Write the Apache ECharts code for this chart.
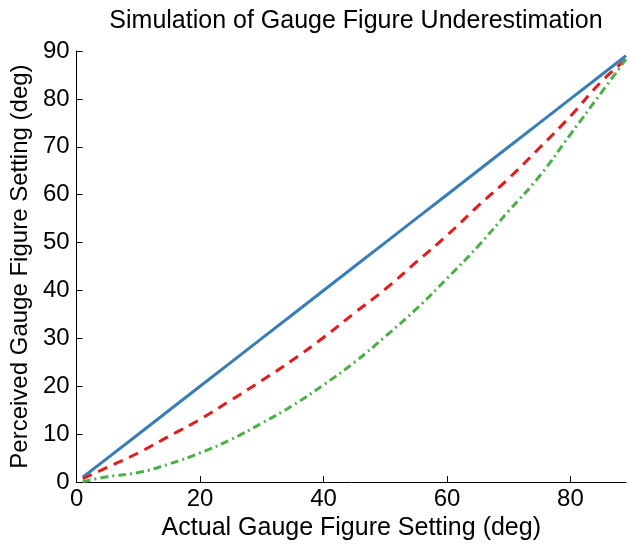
<!DOCTYPE html>
<html>
<head>
<meta charset="utf-8">
<script src="https://cdn.jsdelivr.net/npm/echarts@6/dist/echarts.min.js"></script>
<style>
html,body{margin:0;padding:0;background:#fff;}
#chart{width:629px;height:546px;}
</style>
</head>
<body>
<div id="chart"></div>
<script>
var actualSetting = [1, 5, 10, 15, 20, 25, 30, 35, 40, 45, 50, 55, 60, 65, 70, 75, 80, 85, 89];
var perceivedBlue = [1, 5, 10, 15, 20, 25, 30, 35, 40, 45, 50, 55, 60, 65, 70, 75, 80, 85, 89];
var perceivedRed = [0.7, 3.1, 6.1, 9.6, 13.1, 17.1, 21.2, 25.5, 30.2, 35.3, 40.3, 45.9, 51.5, 57.6, 63.4, 69.8, 76.4, 83.6, 88.2];
var perceivedGreen = [0.1, 1.1, 2.0, 3.8, 6.1, 8.9, 12.3, 16.0, 20.3, 25.0, 30.4, 36.1, 42.5, 49.2, 56.6, 63.9, 72.6, 81.3, 88.3];
var xTicks = [0, 20, 40, 60, 80];

function pairs(ys) {
  return actualSetting.map(function (x, i) { return [x, ys[i]]; });
}

var FONT = 'Liberation Sans, Arial, Helvetica, sans-serif';
var chart = echarts.init(document.getElementById('chart'));
chart.setOption({
  animation: false,
  backgroundColor: '#ffffff',
  title: {
    text: 'Simulation of Gauge Figure Underestimation',
    left: 351, top: 4, textAlign: 'center',
    textStyle: { fontFamily: FONT, fontSize: 25, fontWeight: 'normal', color: '#000' }
  },
  grid: { left: 72, right: 3, top: 51, bottom: 59 },
  xAxis: {
    type: 'value', min: 0, max: 89, interval: 20,
    name: 'Actual Gauge Figure Setting (deg)',
    nameLocation: 'middle', nameGap: 27,
    nameTextStyle: { fontFamily: FONT, fontSize: 25, color: '#000' },
    axisLine: { show: true, onZero: false, lineStyle: { color: '#000', width: 1 } },
    axisTick: { show: true, inside: true, length: 6, customValues: xTicks, lineStyle: { color: '#000' } },
    axisLabel: { customValues: xTicks, fontFamily: FONT, fontSize: 24, color: '#000', margin: 5 },
    splitLine: { show: false }
  },
  yAxis: {
    type: 'value', min: 0, max: 90, interval: 10,
    name: 'Perceived Gauge Figure Setting (deg)',
    nameLocation: 'middle', nameGap: 38, nameRotate: 90,
    nameTextStyle: { fontFamily: FONT, fontSize: 24, color: '#000' },
    axisLine: { show: true, onZero: false, lineStyle: { color: '#000', width: 1 } },
    axisTick: { show: true, inside: true, length: 6, lineStyle: { color: '#000' } },
    axisLabel: { fontFamily: FONT, fontSize: 24, color: '#000', margin: 7 },
    splitLine: { show: false }
  },
  series: [
    { type: 'line', data: pairs(perceivedBlue), showSymbol: false, smooth: false,
      lineStyle: { color: '#377EB8', width: 3, type: 'solid' } },
    { type: 'line', data: pairs(perceivedRed), showSymbol: false, smooth: true,
      lineStyle: { color: '#E41A1C', width: 3, type: [10, 7] } },
    { type: 'line', data: pairs(perceivedGreen), showSymbol: false, smooth: true,
      lineStyle: { color: '#4DAF4A', width: 3, type: [8, 4, 2, 4] } }
  ]
});
</script>
</body>
</html>
